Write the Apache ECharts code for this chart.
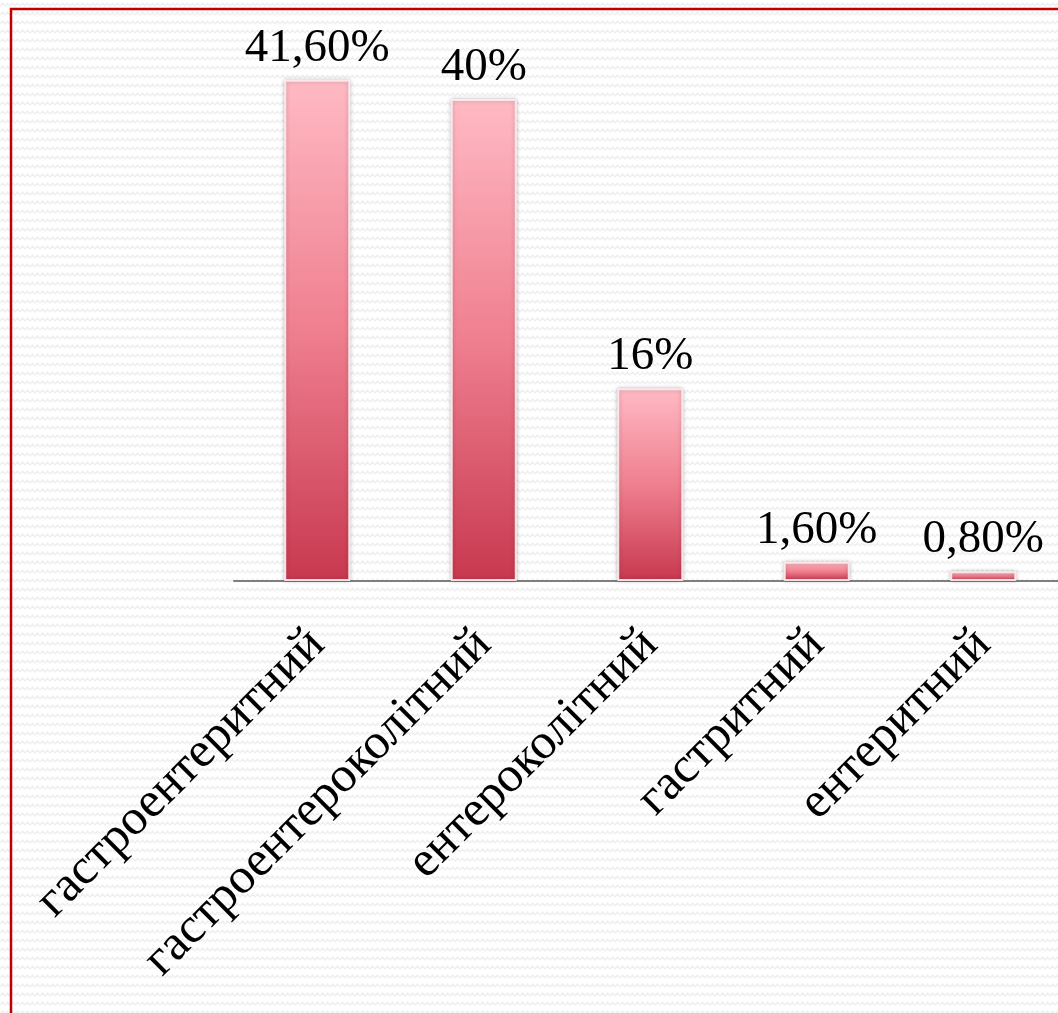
<!DOCTYPE html>
<html>
<head>
<meta charset="utf-8">
<script src="https://cdn.jsdelivr.net/npm/echarts@6/dist/echarts.min.js"></script>
<style>
  html, body { margin: 0; padding: 0; }
  #chart { width: 1058px; height: 1013px; }
</style>
</head>
<body>
<div id="chart"></div>
<script>
// Categories of the disease form and their share (%)
const categories = ['гастроентеритний', 'гастроентероколітний', 'ентероколітний', 'гастритний', 'ентеритний'];
const shares = [41.6, 40, 16, 1.6, 0.8];
const shareLabels = ['41,60%', '40%', '16%', '1,60%', '0,80%'];

// Subtle zigzag texture for the page background
function makeTexture() {
  const c = document.createElement('canvas');
  c.width = 10; c.height = 9;
  const g = c.getContext('2d');
  g.fillStyle = '#ffffff';
  g.fillRect(0, 0, 10, 9);
  g.strokeStyle = '#efefef';
  g.lineWidth = 1.4;
  g.beginPath();
  g.moveTo(0, 6); g.lineTo(2.5, 3); g.lineTo(5, 6); g.lineTo(7.5, 3); g.lineTo(10, 6);
  g.stroke();
  return c.toDataURL();
}
document.getElementById('chart').style.background = 'url(' + makeTexture() + ') repeat';

const serif = '"Liberation Serif", "DejaVu Serif", serif';

const chart = echarts.init(document.getElementById('chart'), null, { renderer: 'canvas' });
chart.setOption({
  backgroundColor: 'transparent',
  animation: false,
  grid: {
    left: 234, right: -8.5, top: 38.75, bottom: 432,
    containLabel: false, outerBoundsMode: 'none'
  },
  xAxis: {
    type: 'category',
    data: categories,
    axisLine: { lineStyle: { color: '#7f7f7f', width: 2 } },
    axisTick: { show: false },
    axisLabel: {
      rotate: 45, interval: 0, margin: 56,
      color: '#000', fontFamily: serif, fontSize: 50
    }
  },
  yAxis: {
    type: 'value', min: 0, max: 45, show: false,
    splitLine: { show: false }
  },
  graphic: [{
    type: 'rect', z: 100, silent: true,
    shape: { x: 11, y: 9, width: 1200, height: 1200 },
    style: { fill: 'none', stroke: '#c00000', lineWidth: 2.5 }
  }],
  series: [{
    type: 'bar',
    data: shares,
    barWidth: 66,
    itemStyle: {
      color: new echarts.graphic.LinearGradient(0, 0, 0, 1, [
        { offset: 0, color: '#ffbac4' },
        { offset: 0.5, color: '#ef7f8f' },
        { offset: 1, color: '#c8384f' }
      ]),
      borderColor: 'rgba(255,235,240,0.9)',
      borderWidth: 2,
      shadowColor: 'rgba(0,0,0,0.25)',
      shadowBlur: 4,
      shadowOffsetX: 0,
      shadowOffsetY: 0
    },
    label: {
      show: true, position: 'top', distance: 8,
      color: '#000', fontFamily: serif, fontSize: 47,
      formatter: p => shareLabels[p.dataIndex]
    }
  }]
});
</script>
</body>
</html>
